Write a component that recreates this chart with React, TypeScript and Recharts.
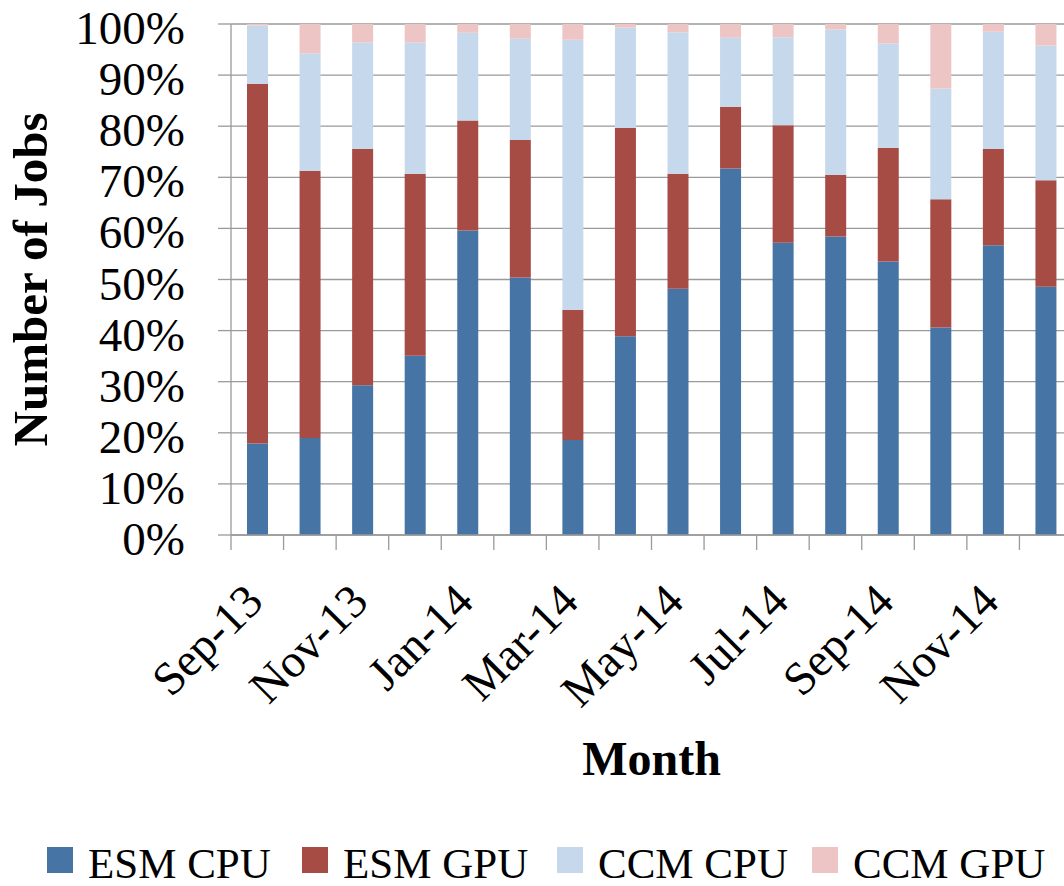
import React from "react";
import {
  BarChart,
  Bar,
  XAxis,
  YAxis,
  CartesianGrid,
  Legend,
  Label,
} from "recharts";

const months = [
  "Sep-13", "Oct-13", "Nov-13", "Dec-13", "Jan-14", "Feb-14", "Mar-14", "Apr-14",
  "May-14", "Jun-14", "Jul-14", "Aug-14", "Sep-14", "Oct-14", "Nov-14", "Dec-14",
];
const esmCpu = [17.9, 19.0, 29.3, 35.1, 59.6, 50.4, 18.6, 38.9, 48.2, 71.7, 57.2, 58.4, 53.5, 40.6, 56.7, 48.6];
const esmGpu = [70.4, 52.3, 46.3, 35.6, 21.5, 26.9, 25.5, 40.8, 22.5, 12.1, 23.0, 12.1, 22.3, 25.1, 18.9, 20.8];
const ccmCpu = [11.4, 23.0, 20.8, 25.7, 17.2, 19.8, 52.8, 19.6, 27.7, 13.5, 17.2, 28.4, 20.4, 21.7, 22.9, 26.4];
const ccmGpu = [0.3, 5.7, 3.6, 3.6, 1.7, 2.9, 3.1, 0.7, 1.6, 2.7, 2.6, 1.1, 3.8, 12.6, 1.5, 4.2];
const yTicks = [0, 10, 20, 30, 40, 50, 60, 70, 80, 90, 100];

const series = [
  { key: "esmCpu", name: "ESM CPU", color: "#4674A5" },
  { key: "esmGpu", name: "ESM GPU", color: "#A74B45" },
  { key: "ccmCpu", name: "CCM CPU", color: "#C5D8EC" },
  { key: "ccmGpu", name: "CCM GPU", color: "#EDC5C4" },
];

const data = months.map((month, i) => ({
  month,
  esmCpu: esmCpu[i],
  esmGpu: esmGpu[i],
  ccmCpu: ccmCpu[i],
  ccmGpu: ccmGpu[i],
}));

const FONT = "'Liberation Serif', 'Times New Roman', serif";
const GRID = "#9a9a9a";
const CHART_W = 1100;
const CHART_H = 886;
const Y_AXIS_W = 231;
const RIGHT = 28;
const BAND = (CHART_W - Y_AXIS_W - RIGHT) / months.length;

const XTick = (props: any) => {
  const { x, y, payload, index } = props;
  return (
    <g>
      <line x1={x - BAND / 2} y1={y} x2={x - BAND / 2} y2={y + 15} stroke={GRID} strokeWidth={1.3} />
      {index % 2 === 0 && (
        <text
          transform={`translate(${x + 8},${y + 69}) rotate(-45)`}
          textAnchor="end"
          fontFamily={FONT}
          fontSize={47}
          fill="#000"
        >
          {payload.value}
        </text>
      )}
    </g>
  );
};

const YTick = (props: any) => {
  const { x, y, payload } = props;
  return (
    <text x={x} y={y} dy={20} textAnchor="end" fontFamily={FONT} fontSize={47} fill="#000">
      {`${payload.value}%`}
    </text>
  );
};

const LegendContent = () => (
  <div style={{ height: 56, display: "flex", paddingLeft: 47, paddingTop: 4, boxSizing: "border-box" }}>
    {series.map((s, i) => (
      <div
        key={s.key}
        style={{
          display: "flex",
          alignItems: "center",
          width: i < 3 ? 255 : "auto",
          whiteSpace: "nowrap",
        }}
      >
        <div style={{ width: 26, height: 26, background: s.color, marginRight: 15, flexShrink: 0 }} />
        <span style={{ fontFamily: FONT, fontSize: 43, lineHeight: "normal", position: "relative", top: 3 }}>
          {s.name}
        </span>
      </div>
    ))}
  </div>
);

export default function App() {
  return (
    <div style={{ position: "fixed", left: 0, top: 0, width: 1064, height: 886, overflow: "hidden", background: "#fff" }}>
      <BarChart
        width={CHART_W}
        height={CHART_H}
        data={data}
        margin={{ top: 24, right: RIGHT, left: 0, bottom: 0 }}
        barSize={21}
      >
        <CartesianGrid vertical={false} stroke={GRID} strokeWidth={1.3} />
        <XAxis
          dataKey="month"
          interval={0}
          height={CHART_H - 535 - 56}
          tickLine={false}
          tickSize={0}
          tickMargin={0}
          axisLine={{ stroke: GRID, strokeWidth: 1.3 }}
          tick={<XTick />}
        >
          <Label
            content={({ viewBox }: any) => (
              <text
                x={viewBox.x + viewBox.width / 2}
                y={775}
                textAnchor="middle"
                fontFamily={FONT}
                fontWeight="bold"
                fontSize={48}
                fill="#000"
              >
                Month
              </text>
            )}
          />
        </XAxis>
        <YAxis
          width={Y_AXIS_W}
          domain={[0, 100]}
          ticks={yTicks}
          allowDataOverflow
          interval={0}
          tickSize={13}
          tickMargin={33}
          tickLine={{ stroke: GRID, strokeWidth: 1.3 }}
          axisLine={{ stroke: GRID, strokeWidth: 1.3 }}
          tick={<YTick />}
        >
          <Label
            content={({ viewBox }: any) => {
              const cx = viewBox.x + 47;
              const cy = viewBox.y + viewBox.height / 2;
              return (
                <text
                  x={cx}
                  y={cy}
                  transform={`rotate(-90 ${cx} ${cy})`}
                  textAnchor="middle"
                  fontFamily={FONT}
                  fontWeight="bold"
                  fontSize={49}
                  fill="#000"
                >
                  Number of Jobs
                </text>
              );
            }}
          />
        </YAxis>
        <Legend verticalAlign="bottom" align="left" content={<LegendContent />} />
        {series.map((s) => (
          <Bar key={s.key} dataKey={s.key} name={s.name} stackId="a" fill={s.color} isAnimationActive={false} />
        ))}
      </BarChart>
    </div>
  );
}
